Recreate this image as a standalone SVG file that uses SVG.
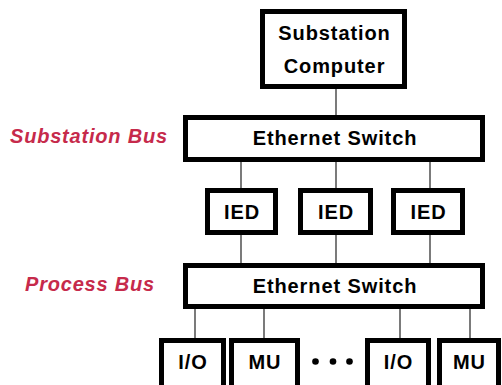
<svg xmlns="http://www.w3.org/2000/svg" width="502" height="385" viewBox="0 0 502 385">
  <style>
    .box { fill: #ffffff; stroke: #000000; stroke-width: 5; }
    .lbl { font-family: "Liberation Sans", Arial, sans-serif; font-size: 20px; font-weight: bold; fill: #000000; text-anchor: middle; letter-spacing: 0.9px; }
    .bus { font-family: "Liberation Sans", Arial, sans-serif; font-size: 20px; font-weight: bold; font-style: italic; fill: #c62a4b; letter-spacing: 0.8px; }
    .wire { stroke: #222222; stroke-width: 1.2; fill: none; }
  </style>
  <rect width="502" height="385" fill="#ffffff"/>

  <!-- connectors -->
  <g id="connectors">
    <line class="wire" x1="336" y1="89" x2="336" y2="115"/>
    <line class="wire" x1="241" y1="162" x2="241" y2="188"/>
    <line class="wire" x1="336" y1="162" x2="336" y2="188"/>
    <line class="wire" x1="430" y1="162" x2="430" y2="188"/>
    <line class="wire" x1="241" y1="235" x2="241" y2="263"/>
    <line class="wire" x1="336" y1="235" x2="336" y2="263"/>
    <line class="wire" x1="430" y1="235" x2="430" y2="263"/>
    <line class="wire" x1="195" y1="309" x2="195" y2="338"/>
    <line class="wire" x1="264" y1="309" x2="264" y2="338"/>
    <line class="wire" x1="400" y1="309" x2="400" y2="338"/>
    <line class="wire" x1="470" y1="309" x2="470" y2="338"/>
  </g>

  <!-- bus labels -->
  <text class="bus" x="10" y="143">Substation Bus</text>
  <text class="bus" x="25" y="291">Process Bus</text>

  <g id="substation-computer">
    <rect class="box" x="262.5" y="11.5" width="142" height="75"/>
    <text class="lbl" x="334.5" y="39.5">Substation</text>
    <text class="lbl" x="334.5" y="73">Computer</text>
  </g>

  <g id="station-switch">
    <rect class="box" x="185.5" y="117.5" width="297" height="42"/>
    <text class="lbl" x="335" y="145">Ethernet Switch</text>
  </g>

  <g id="ied-1">
    <rect class="box" x="207.5" y="190.5" width="68" height="42"/>
    <text class="lbl" x="242" y="218.5">IED</text>
  </g>
  <g id="ied-2">
    <rect class="box" x="300.5" y="190.5" width="70" height="42"/>
    <text class="lbl" x="336" y="218.5">IED</text>
  </g>
  <g id="ied-3">
    <rect class="box" x="393.5" y="190.5" width="69" height="42"/>
    <text class="lbl" x="428.5" y="218.5">IED</text>
  </g>

  <g id="process-switch">
    <rect class="box" x="185.5" y="265.5" width="297" height="41"/>
    <text class="lbl" x="335" y="293">Ethernet Switch</text>
  </g>

  <g id="io-1">
    <rect class="box" x="161.5" y="340.5" width="62" height="50"/>
    <text class="lbl" x="193" y="368.5">I/O</text>
  </g>
  <g id="mu-1">
    <rect class="box" x="231.5" y="340.5" width="66" height="50"/>
    <text class="lbl" x="265" y="368.5">MU</text>
  </g>
  <g id="ellipsis">
    <circle cx="315.5" cy="361.5" r="3.3" fill="#000000"/>
    <circle cx="333" cy="361.5" r="3.3" fill="#000000"/>
    <circle cx="349.5" cy="361.5" r="3.3" fill="#000000"/>
  </g>
  <g id="io-2">
    <rect class="box" x="367.5" y="340.5" width="61" height="50"/>
    <text class="lbl" x="398.5" y="368.5">I/O</text>
  </g>
  <g id="mu-2">
    <rect class="box" x="439.5" y="340.5" width="59" height="50"/>
    <text class="lbl" x="469.5" y="368.5">MU</text>
  </g>
</svg>
